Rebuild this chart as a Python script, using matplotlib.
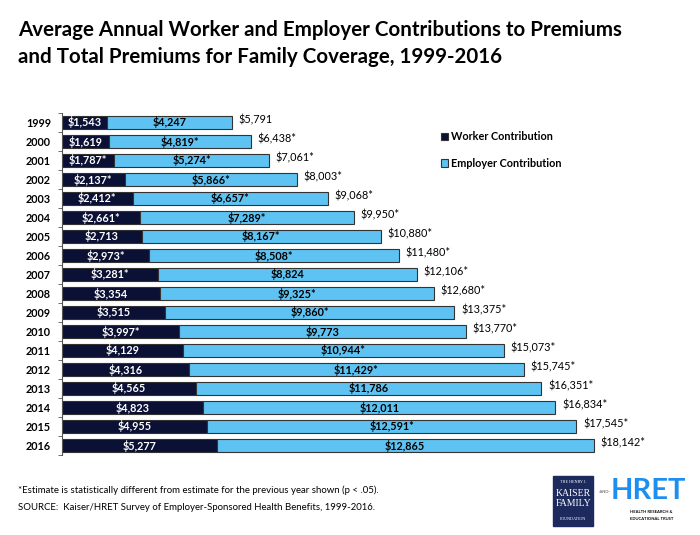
import numpy as np
import matplotlib
matplotlib.use("Agg")
import matplotlib.pyplot as plt
from matplotlib.patches import Rectangle

plt.rcParams['font.family'] = ['Lato', 'DejaVu Sans']

years = ["1999", "2000", "2001", "2002", "2003", "2004", "2005", "2006", "2007",
         "2008", "2009", "2010", "2011", "2012", "2013", "2014", "2015", "2016"]
worker = [1543, 1619, 1787, 2137, 2412, 2661, 2713, 2973, 3281,
          3354, 3515, 3997, 4129, 4316, 4565, 4823, 4955, 5277]
employer = [4247, 4819, 5274, 5866, 6657, 7289, 8167, 8508, 8824,
            9325, 9860, 9773, 10944, 11429, 11786, 12011, 12591, 12865]
total = [5791, 6438, 7061, 8003, 9068, 9950, 10880, 11480, 12106,
         12680, 13375, 13770, 15073, 15745, 16351, 16834, 17545, 18142]
# statistically significant change flags (asterisk)
worker_sig = [0, 0, 1, 1, 1, 1, 0, 1, 1, 0, 0, 1, 0, 0, 0, 0, 0, 0]
employer_sig = [0, 1, 1, 1, 1, 1, 1, 1, 0, 1, 1, 0, 1, 1, 0, 0, 1, 0]
total_sig = [0] + [1] * 17

navy = "#0b1035"
sky = "#5ec3f2"

def money(v, s):
    return "${:,}".format(v) + ("*" if s else "")

fig = plt.figure(figsize=(7, 5.35), dpi=100)
ax = fig.add_axes([62 / 700, 1 - 455 / 535, 620 / 700, 342 / 535])

y = np.arange(len(years))
ax.barh(y, worker, height=0.72, color=navy, edgecolor="#333333", linewidth=0.8,
        label="Worker Contribution")
ax.barh(y, employer, left=worker, height=0.72, color=sky, edgecolor="#333333",
        linewidth=0.8, label="Employer Contribution")

for i in range(len(years)):
    ax.text(worker[i] / 2, y[i], money(worker[i], worker_sig[i]), color="white",
            ha="center", va="center", fontsize=7.8, fontweight="bold")
    ax.text(worker[i] + employer[i] / 2, y[i], money(employer[i], employer_sig[i]),
            color="black", ha="center", va="center", fontsize=7.8, fontweight="bold")
    ax.annotate(money(total[i], total_sig[i]), (total[i], y[i]), xytext=(5, 2),
                textcoords="offset points", ha="left", va="center", fontsize=7.8)

ax.set_xlim(0, 21150)
ax.set_ylim(len(years) - 0.5, -0.5)
ax.set_yticks(y)
ax.set_yticklabels(years, fontsize=7.8, fontweight="bold")
ax.set_yticks(np.arange(len(years) + 1) - 0.5, minor=True)
ax.tick_params(axis="y", which="major", length=0, pad=8)
ax.tick_params(axis="y", which="minor", length=3, color="#555555")
ax.set_xticks([])
for s in ["top", "right", "bottom"]:
    ax.spines[s].set_visible(False)
ax.spines["left"].set_color("#555555")
ax.spines["left"].set_linewidth(0.8)

leg = ax.legend(loc="upper left", bbox_to_anchor=(0.595, 0.975), frameon=False,
                fontsize=7.8, handlelength=0.7, handleheight=0.7,
                handletextpad=0.3, labelspacing=1.45)
for t in leg.get_texts():
    t.set_fontweight("bold")

fig.text(18 / 700, 1 - 30 / 535, "Average Annual Worker and Employer Contributions to Premiums",
         fontsize=14.8, fontweight="bold", va="center", ha="left")
fig.text(18 / 700, 1 - 57 / 535, "and Total Premiums for Family Coverage, 1999-2016",
         fontsize=14.8, fontweight="bold", va="center", ha="left")

fig.text(18 / 700, 1 - 490 / 535,
         "*Estimate is statistically different from estimate for the previous year shown (p < .05).",
         fontsize=6.9, va="center", ha="left")
fig.text(18 / 700, 1 - 508 / 535,
         "SOURCE:  Kaiser/HRET Survey of Employer-Sponsored Health Benefits, 1999-2016.",
         fontsize=6.9, va="center", ha="left")

# logos as simple text blocks
fig.patches.append(Rectangle((553 / 700, 1 - 526 / 535), 40 / 700, 50 / 535,
                             transform=fig.transFigure, color="#1c2a5e"))
fig.text(573 / 700, 1 - 482 / 535, "THE HENRY J.", color="white", fontsize=3,
         ha="center", va="center", family="Liberation Serif")
for j, w in enumerate(["KAISER", "FAMILY"]):
    fig.text(573 / 700, 1 - (493 + 11 * j) / 535, w, color="white", fontsize=7,
             ha="center", va="center", family="Liberation Serif")
fig.text(573 / 700, 1 - 519 / 535, "FOUNDATION", color="white", fontsize=3,
         ha="center", va="center", family="Liberation Serif")
fig.text(605 / 700, 1 - 492 / 535, "-AND-", color="#555555", fontsize=3,
         ha="center", va="center")
fig.text(648 / 700, 1 - 491 / 535, "HRET", color="#1d8ff0", fontsize=21,
         fontweight="bold", ha="center", va="center")
fig.text(630 / 700, 1 - 512 / 535, "HEALTH RESEARCH &", color="black", fontsize=3,
         fontweight="bold", ha="left", va="center")
fig.text(630 / 700, 1 - 519 / 535, "EDUCATIONAL TRUST", color="black", fontsize=3,
         fontweight="bold", ha="left", va="center")

fig.savefig("out.png", dpi=100)
